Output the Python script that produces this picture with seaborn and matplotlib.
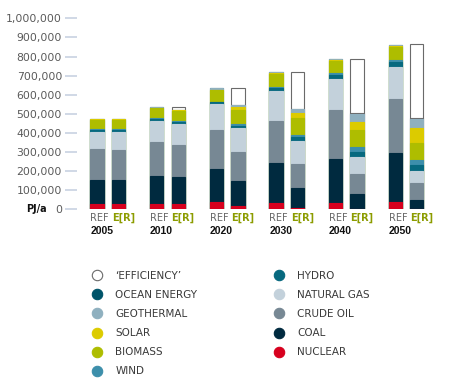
import pandas as pd
import matplotlib.pyplot as plt
import seaborn as sns
from matplotlib.lines import Line2D
from matplotlib.transforms import blended_transform_factory

# World primary energy demand, PJ/a
years = ["2005", "2010", "2020", "2030", "2040", "2050"]
scenarios = ["REF", "E[R]"]

# reference scenario
nuclear_ref = [28000, 28000, 37000, 35000, 35000, 40000]
coal_ref = [125000, 146000, 176000, 206000, 228000, 256000]
oil_ref = [161000, 178000, 202000, 223000, 257000, 280000]
gas_ref = [89000, 110000, 135000, 157000, 161000, 171000]
hydro_ref = [14000, 12000, 10000, 14000, 20000, 22000]
wind_ref = [2000, 2000, 3000, 7000, 11000, 13000]
biomass_ref = [51000, 53000, 62000, 66000, 66000, 66000]
solar_ref = [1000, 3000, 2000, 5000, 4000, 8000]
geothermal_ref = [3000, 2000, 7000, 7000, 3000, 4000]
ocean_ref = [0, 0, 0, 0, 0, 0]
efficiency_ref = [0, 0, 0, 0, 0, 0]

# energy [r]evolution scenario
nuclear_er = [28000, 30000, 15000, 6000, 0, 0]
coal_er = [125000, 137000, 133000, 107000, 80000, 49000]
oil_er = [158000, 169000, 150000, 123000, 103000, 87000]
gas_er = [92000, 110000, 126000, 123000, 92000, 66000]
hydro_er = [14000, 13000, 14000, 18000, 27000, 28000]
wind_er = [2000, 4000, 10000, 12000, 23000, 28000]
biomass_er = [51000, 54000, 74000, 87000, 90000, 91000]
solar_er = [1000, 2000, 14000, 27000, 44000, 75000]
geothermal_er = [3000, 2000, 8000, 20000, 42000, 50000]
ocean_er = [0, 0, 1000, 1000, 2000, 2000]
efficiency_er = [0, 13000, 89000, 196000, 285000, 388000]

# stack order, bottom to top
EFF = "\u2018EFFICIENCY\u2019"
sources = ["NUCLEAR", "COAL", "CRUDE OIL", "NATURAL GAS", "HYDRO", "WIND",
           "BIOMASS", "SOLAR", "GEOTHERMAL", "OCEAN ENERGY", EFF]
ref_values = [nuclear_ref, coal_ref, oil_ref, gas_ref, hydro_ref, wind_ref,
              biomass_ref, solar_ref, geothermal_ref, ocean_ref, efficiency_ref]
er_values = [nuclear_er, coal_er, oil_er, gas_er, hydro_er, wind_er,
             biomass_er, solar_er, geothermal_er, ocean_er, efficiency_er]

colors = {
    "NUCLEAR": "#d7001e",
    "COAL": "#002a3f",
    "CRUDE OIL": "#778894",
    "NATURAL GAS": "#c3d1db",
    "HYDRO": "#07697f",
    "WIND": "#3d8fab",
    "BIOMASS": "#aebd00",
    "SOLAR": "#dccb00",
    "GEOTHERMAL": "#8fb0bf",
    "OCEAN ENERGY": "#00546a",
    EFF: "#ffffff",
}
edge_grey = "#6a6a6a"

rows = []
for src, ref, er in zip(sources, ref_values, er_values):
    for y, a, b in zip(years, ref, er):
        rows.append({"year": y, "scenario": "REF", "source": src, "value": a})
        rows.append({"year": y, "scenario": "E[R]", "source": src, "value": b})
df = pd.DataFrame(rows)
df["top"] = df.groupby(["year", "scenario"])["value"].cumsum()

# bars that carry an 'efficiency' box on top
eff_years = df[(df["source"] == EFF) & (df["value"] > 0)]
boxed = set(zip(eff_years["year"], eff_years["scenario"]))
df["boxed"] = [(y, s) in boxed for y, s in zip(df["year"], df["scenario"])]

sns.set_style("white")
plt.rcParams["font.family"] = ["DejaVu Sans"]

fig = plt.figure(figsize=(4.5, 3.83), dpi=100)
ax = fig.add_axes([77 / 450, (383 - 209.3) / 383, 363 / 450, 191 / 383])

lw = 0.8
bar_kw = dict(x="year", y="top", hue="scenario", order=years, hue_order=scenarios,
              dodge=True, width=0.72, gap=0.375, saturation=1, errorbar=None,
              linewidth=lw, legend=False, ax=ax)

# overdraw cumulative totals from the top layer down
for src in reversed(sources):
    c = colors[src]
    pal = {"REF": c, "E[R]": c}
    layer = df[df["source"] == src]
    if src == EFF:
        sns.barplot(data=layer[layer["boxed"]], palette=pal, edgecolor=edge_grey, **bar_kw)
    elif src == "OCEAN ENERGY":
        # grey line under the efficiency box
        sns.barplot(data=layer[~layer["boxed"]], palette=pal, edgecolor=c, **bar_kw)
        sns.barplot(data=layer[layer["boxed"]], palette=pal, edgecolor=edge_grey, **bar_kw)
    else:
        sns.barplot(data=layer, palette=pal, edgecolor=c, **bar_kw)

ax.set_xlim(-0.518, 5.57)
ax.set_ylim(0, 1000000)
ax.set_xlabel("")
ax.set_ylabel("")
ax.set_xticks([])
ticks = list(range(0, 1000001, 100000))
ax.set_yticks(ticks)
ax.set_yticklabels([f"{t:,}" for t in ticks])
ax.tick_params(axis="y", left=True, length=8.6, width=1.2, color="#c8d2e2",
               pad=2.2, labelsize=7.8, labelcolor="#5a5a5a")
sns.despine(ax=ax, left=True, bottom=True)

fig.text(47 / 450, 1 - 209.3 / 383, "PJ/a", ha="right", va="center",
         fontsize=7, fontweight="bold", color="#111111")

# scenario and year labels under each pair
trans = blended_transform_factory(ax.transData, ax.transAxes)
half = 0.72 / 4
bw = 0.36 * (1 - 0.375)
for i, y in enumerate(years):
    ax.text(i - half - bw / 2, -0.047, "REF", transform=trans, ha="left", va="center",
            fontsize=7, color="#666666")
    ax.text(i + half - bw / 2, -0.047, "E[R]", transform=trans, ha="left", va="center",
            fontsize=7, fontweight="bold", color="#8c9c00")
    ax.text(i - half - bw / 2, -0.114, y, transform=trans, ha="left", va="center",
            fontsize=7.5, fontweight="bold", color="#111111", family="Liberation Sans")

# legend
legend_order = [EFF, "OCEAN ENERGY", "GEOTHERMAL", "SOLAR", "BIOMASS", "WIND",
                "HYDRO", "NATURAL GAS", "CRUDE OIL", "COAL", "NUCLEAR"]
handles = []
for src in legend_order:
    ec = edge_grey if src == EFF else colors[src]
    handles.append(Line2D([], [], marker="o", linestyle="none", markersize=7.5,
                          markerfacecolor=colors[src], markeredgecolor=ec,
                          markeredgewidth=0.8))
fig.legend(handles, legend_order, ncol=2, loc="upper left",
           bbox_to_anchor=(92 / 450, 1 - 271 / 383), frameon=False, fontsize=7.5,
           handlelength=1.0, handletextpad=1.25, columnspacing=7.3, labelspacing=0.87,
           borderpad=0, borderaxespad=0, labelcolor="#3a3a3a")

fig.savefig("out.png", dpi=100)
